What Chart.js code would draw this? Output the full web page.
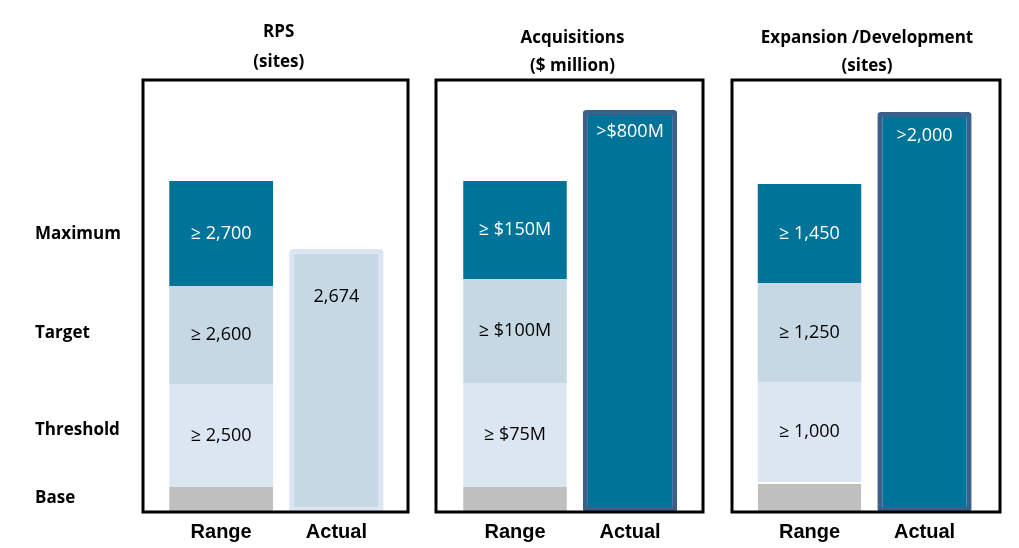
<!DOCTYPE html>
<html>
<head>
<meta charset="utf-8">
<script src="https://cdn.jsdelivr.net/npm/chart.js@4.4.0/dist/chart.umd.min.js"></script>
<style>
  html, body { margin: 0; padding: 0; background: #fff; }
  #wrap { position: relative; width: 1019px; height: 548px; }
  .panel { position: absolute; top: 0; height: 548px; }
</style>
</head>
<body>
<div id="wrap">
  <div class="panel" style="left:0;width:420px"><canvas id="rps-chart"></canvas></div>
  <div class="panel" style="left:420px;width:300px"><canvas id="acq-chart"></canvas></div>
  <div class="panel" style="left:720px;width:299px"><canvas id="exp-chart"></canvas></div>
</div>
<script>
const categories = ['Range', 'Actual'];
const rowLabels = ['Base', 'Threshold', 'Target', 'Maximum'];
const rowLabelLevels = [0.14, 0.82, 1.79, 2.78];

// tier heights as drawn (schematic, not to scale with the labels)
const rpsBands = [0.25, 1.03, 0.98, 1.05];
const rpsActual = 2.63;
const rpsBandLabels = [null, '≥ 2,500', '≥ 2,600', '≥ 2,700'];
const rpsActualLabel = '2,674';

const acqBands = [0.25, 1.04, 1.04, 0.98];
const acqActual = 4.02;
const acqBandLabels = [null, '≥ $75M', '≥ $100M', '≥ $150M'];
const acqActualLabel = '>$800M';

const expBands = [0.30, 1.00, 0.99, 0.99];
const expActual = 4.00;
const expBandLabels = [null, '≥ 1,000', '≥ 1,250', '≥ 1,450'];
const expActualLabel = '>2,000';

const bandColors = ['#bfbfbf', '#dce6f2', '#c5d8e4', '#007398'];
const bandText = ['#000', '#000', '#000', '#fff'];

// draws the frame round each panel and the text inside the bars
const panelPlugin = {
  id: 'panel',
  afterDatasetsDraw(chart, args, o) {
    const ctx = chart.ctx, a = chart.chartArea;
    ctx.save();
    ctx.font = '18px "Open Sans"';
    ctx.textAlign = 'center';
    ctx.textBaseline = 'middle';
    chart.data.datasets.forEach((ds, di) => {
      chart.getDatasetMeta(di).data.forEach((bar, i) => {
        const t = ds.textLabels[i];
        if (!t) return;
        const y = ds.labelTop ? bar.y + ds.labelTop : (bar.y + bar.base) / 2;
        ctx.fillStyle = ds.textColor;
        ctx.fillText(t, bar.x, y);
      });
    });
    ctx.lineWidth = 3;
    ctx.strokeStyle = '#000';
    ctx.strokeRect(a.left - o.padLeft, a.top, a.right - a.left + o.padLeft + o.padRight, a.bottom - a.top);
    ctx.restore();
  }
};

function makeChart(id, p) {
  const datasets = bandColors.map((c, i) => ({
    label: rowLabels[i],
    data: [p.bands[i], null],
    backgroundColor: c,
    borderColor: '#fff',
    borderWidth: (i === 0 && p.baseGap) ? { top: 2, left: 0, right: 0, bottom: 0 } : 0,
    barPercentage: 0.9,
    categoryPercentage: 1,
    textLabels: [p.bandLabels[i], null],
    textColor: bandText[i]
  }));
  datasets.push({
    label: 'Actual',
    data: [null, p.actual],
    backgroundColor: p.actualFill,
    borderColor: p.actualBorder,
    borderWidth: 5,
    borderSkipped: false,
    borderRadius: 3,
    barPercentage: 0.82,
    categoryPercentage: 1,
    textLabels: [null, p.actualLabel],
    textColor: p.actualText,
    labelTop: p.labelTop
  });

  return new Chart(document.getElementById(id), {
    type: 'bar',
    data: { labels: categories, datasets: datasets },
    plugins: [panelPlugin],
    options: {
      responsive: true,
      maintainAspectRatio: false,
      animation: false,
      layout: { padding: { left: p.padL, right: p.padR, top: 0, bottom: 0 } },
      plugins: {
        legend: { display: false },
        tooltip: { enabled: false },
        title: {
          display: true,
          text: p.title,
          fullSize: false,
          color: '#000',
          font: { family: 'Open Sans', weight: 'bold', size: 17, lineHeight: p.titleLine + 'px' },
          padding: { top: p.titleTop, bottom: 80 - 2 * p.titleLine - p.titleTop }
        },
        panel: { padLeft: p.frameL, padRight: p.frameR }
      },
      scales: {
        x: {
          stacked: true,
          grid: { display: false, drawTicks: false },
          border: { display: false },
          ticks: { color: '#000', padding: 8, maxRotation: 0, font: { family: 'Liberation Sans', weight: 'bold', size: 20 } },
          afterFit: axis => { axis.height = 36; }
        },
        y: {
          stacked: true,
          min: 0,
          max: 4.32,
          display: p.showRows,
          grid: { display: false, drawTicks: false },
          border: { display: false },
          afterBuildTicks: axis => { axis.ticks = rowLabelLevels.map(v => ({ value: v })); },
          afterFit: axis => { axis.width = p.showRows ? 128.5 : 0; },
          ticks: {
            autoSkip: false,
            crossAlign: 'far',
            padding: 0,
            color: '#000',
            font: { family: 'Open Sans', weight: 'bold', size: 17 },
            callback: (v, i) => rowLabels[i]
          }
        }
      }
    }
  });
}

const rpsChart = makeChart('rps-chart', {
  title: ['RPS', '(sites)'], titleTop: 17, titleLine: 30,
  bands: rpsBands, bandLabels: rpsBandLabels,
  actual: rpsActual, actualLabel: rpsActualLabel,
  actualFill: '#c5d8e4', actualBorder: '#dce6f2', actualText: '#000', labelTop: 48,
  padL: 35, padR: 26, frameL: 20.5, frameR: 14, showRows: true
});

const acqChart = makeChart('acq-chart', {
  title: ['Acquisitions', '($ million)'], titleTop: 24, titleLine: 28,
  bands: acqBands, bandLabels: acqBandLabels,
  actual: acqActual, actualLabel: acqActualLabel,
  actualFill: '#007398', actualBorder: '#3c5f8c', actualText: '#fff', labelTop: 22,
  padL: 37.5, padR: 32.5, frameL: 21.5, frameR: 15.5, showRows: false
});

const expChart = makeChart('exp-chart', {
  title: ['Expansion /Development', '(sites)'], titleTop: 24, titleLine: 28,
  bands: expBands, bandLabels: expBandLabels, baseGap: true,
  actual: expActual, actualLabel: expActualLabel,
  actualFill: '#007398', actualBorder: '#3c5f8c', actualText: '#fff', labelTop: 24,
  padL: 32, padR: 37, frameL: 20, frameR: 18, showRows: false
});
</script>
</body>
</html>
